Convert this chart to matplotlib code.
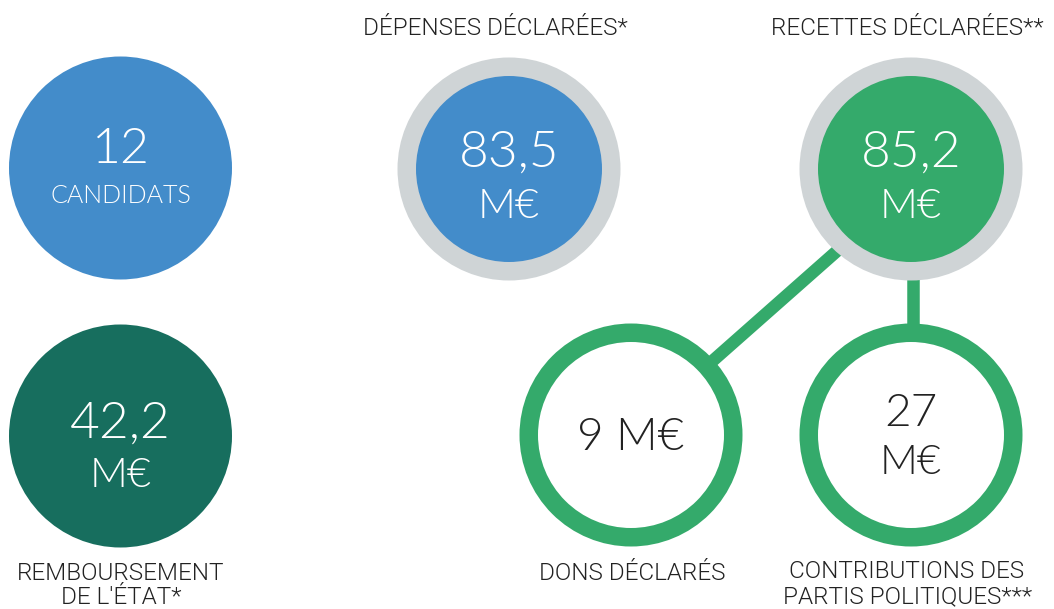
import matplotlib
matplotlib.use("Agg")
import matplotlib.pyplot as plt
from matplotlib.patches import Circle

# ---- data ----
values_main = ["12", "83,5", "85,2", "42,2", "9 M€", "27"]
units = ["CANDIDATS", "M€", "M€", "M€", "", "M€"]
top_labels = ["", "DÉPENSES DÉCLARÉES*", "RECETTES DÉCLARÉES**", "", "", ""]
bottom_labels = ["", "", "", "REMBOURSEMENT\nDE L'ÉTAT*", "DONS DÉCLARÉS",
                 "CONTRIBUTIONS DES\nPARTIS POLITIQUES***"]

BLUE = "#438CCA"
DGREEN = "#176E5E"
GREEN = "#34AA6B"
GREY = "#CFD4D6"
DARK = "#222222"

num_font = "Lato"
lab_font = "Roboto"

fig = plt.figure(figsize=(10.54, 6.09), dpi=100)
ax = fig.add_axes([0, 0, 1, 1])
ax.set_xlim(0, 1054)
ax.set_ylim(609, 0)
ax.set_aspect("equal")
ax.axis("off")

R = 111.5
layout = [
    (120.5, 168, "solid", BLUE),
    (509, 169, "grey", BLUE),
    (911, 169, "grey", GREEN),
    (120.5, 436, "solid", DGREEN),
    (631, 435, "ring", GREEN),
    (911, 435, "ring", GREEN),
]

# connectors
ax.plot([631, 880], [433, 213], color=GREEN, lw=9, solid_capstyle="butt", zorder=1)
ax.plot([913, 913], [250, 350], color=GREEN, lw=9, solid_capstyle="butt", zorder=1)

for (cx, cy, style, col) in layout:
    if style == "solid":
        ax.add_patch(Circle((cx, cy), R, color=col, lw=0, zorder=2))
    elif style == "grey":
        ax.add_patch(Circle((cx, cy), R, color=GREY, lw=0, zorder=2))
        ax.add_patch(Circle((cx, cy), 93, color=col, lw=0, zorder=3))
    else:
        ax.add_patch(Circle((cx, cy), R, color=col, lw=0, zorder=2))
        ax.add_patch(Circle((cx, cy), 93, color="white", lw=0, zorder=3))

def T(x, y, s, size, color, family, weight=300):
    ax.text(x, y, s, ha="center", va="baseline", fontsize=size, color=color,
            family=[family, "DejaVu Sans"], fontweight=weight, zorder=5)

# circle texts (baselines)
T(120.5, 163, values_main[0], 36, "white", num_font)
T(120.5, 203, units[0], 18, "white", num_font)
T(509, 167, values_main[1], 37, "white", num_font)
T(509, 218, units[1], 30, "white", num_font)
T(911, 167, values_main[2], 37, "white", num_font)
T(911, 218, units[2], 30, "white", num_font)
T(120.5, 438, values_main[3], 37, "white", num_font)
T(120.5, 487, units[3], 30, "white", num_font)
T(631, 450, values_main[4], 33, DARK, num_font)
T(911, 426, values_main[5], 33, DARK, num_font)
T(911, 474, units[5], 30, DARK, num_font)

# outer labels
T(495, 35, top_labels[1], 17.5, DARK, lab_font)
T(907, 35, top_labels[2], 17.5, DARK, lab_font)
T(121, 580, bottom_labels[3].split("\n")[0], 17.5, DARK, lab_font)
T(121, 604, bottom_labels[3].split("\n")[1], 17.5, DARK, lab_font)
T(632, 580, bottom_labels[4], 17.5, DARK, lab_font)
T(907, 578, bottom_labels[5].split("\n")[0], 17.5, DARK, lab_font)
T(908, 603, bottom_labels[5].split("\n")[1], 17.5, DARK, lab_font)

fig.savefig("out.png", dpi=100, facecolor="white")
